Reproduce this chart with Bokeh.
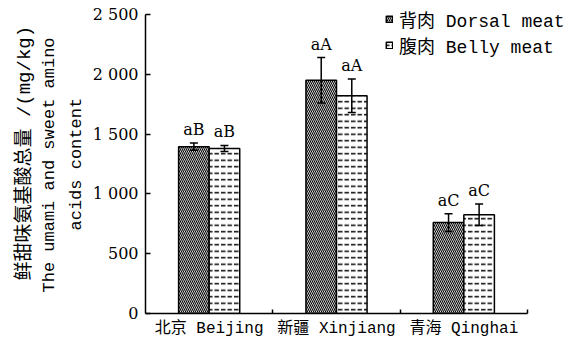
from bokeh.plotting import figure
from bokeh.models import (ColumnDataSource, Range1d, FixedTicker, Whisker, TeeHead,
                          Legend, LegendItem, Title)
from bokeh.core.properties import value
from bokeh.embed import file_html
from bokeh.resources import INLINE

# Umami + sweet amino acid totals (mg/kg), mean and error per region
regions = ["北京 Beijing", "新疆 Xinjiang", "青海 Qinghai"]
dorsal = [1395, 1950, 760]
dorsal_err = [30, 190, 75]
belly = [1380, 1820, 825]
belly_err = [25, 140, 90]
dorsal_sig = ["aB", "aA", "aC"]
belly_sig = ["aB", "aA", "aC"]
y_ticks = [0, 500, 1000, 1500, 2000, 2500]
y_tick_labels = ["0", "500", "1 000", "1 500", "2 000", "2 500"]
y_title_lines = ["鲜甜味氨基酸总量 /(mg/kg)", "The umami and sweet amino", "acids content"]
series_names = ["背肉 Dorsal meat", "腹肉 Belly meat"]

BAR_W = 0.24
MONO = "'Liberation Mono', 'Noto Sans CJK SC'"
SERIF = "DejaVu Serif"

W, H = 578, 346
LEFT, RIGHT_AXIS_END, AXIS_TOP, BOTTOM = 145, 527, 14, 33
N = len(regions)
Y_MAX = 2500
centers = [i + 0.5 for i in range(N)]
# the frame runs to the right and top edges so the legend has room;
# both axis lines stop at the data limits
x_end = N * (W - LEFT) / (RIGHT_AXIS_END - LEFT)
y_end = Y_MAX * (H - BOTTOM) / (H - BOTTOM - AXIS_TOP)


def make_source(means, errs, sig, shift):
    return ColumnDataSource(dict(
        x=[c + shift for c in centers],
        top=means,
        lower=[m - e for m, e in zip(means, errs)],
        upper=[m + e for m, e in zip(means, errs)],
        sig=sig,
    ))


src_d = make_source(dorsal, dorsal_err, dorsal_sig, -BAR_W / 2)
src_b = make_source(belly, belly_err, belly_sig, BAR_W / 2)

p = figure(width=W, height=H, output_backend="svg", toolbar_location=None,
           x_range=Range1d(0, x_end), y_range=Range1d(0, y_end),
           min_border_left=LEFT, min_border_right=0,
           min_border_top=0, min_border_bottom=BOTTOM)
p.outline_line_color = None
p.grid.visible = False

r_d = p.vbar(x="x", top="top", width=BAR_W, source=src_d,
             fill_color="white", line_color="black", line_width=1.5,
             hatch_pattern="left_diagonal_line", hatch_color="black",
             hatch_scale=4, hatch_weight=1.1)
r_b = p.vbar(x="x", top="top", width=BAR_W, source=src_b,
             fill_color="white", line_color="black", line_width=1.5,
             hatch_pattern="horizontal_dash", hatch_color="black",
             hatch_scale=6.5, hatch_weight=1.5)

for src in (src_d, src_b):
    w = Whisker(base="x", lower="lower", upper="upper", source=src,
                line_color="black", line_width=1.5, level="overlay",
                upper_head=TeeHead(size=8, line_color="black", line_width=1.5),
                lower_head=TeeHead(size=8, line_color="black", line_width=1.5))
    p.add_layout(w)
    p.text(x="x", y="upper", text="sig", source=src, text_align="center",
           text_baseline="bottom", y_offset=-4, text_font=value(SERIF),
           text_font_size="16px", text_color="black")

# axes
for ax in (p.xaxis[0], p.yaxis[0]):
    ax.axis_line_color = "black"
    ax.axis_line_width = 1.5
    ax.major_label_text_color = "black"

p.yaxis.bounds = (0, Y_MAX)
p.yaxis.ticker = FixedTicker(ticks=y_ticks, minor_ticks=[])
p.yaxis.major_label_overrides = {t: s for t, s in zip(y_ticks, y_tick_labels)}
p.yaxis.major_tick_in = 5
p.yaxis.major_tick_out = 0
p.yaxis.major_tick_line_color = "black"
p.yaxis.major_tick_line_width = 1.5
p.yaxis.major_label_standoff = 7
p.yaxis.major_label_text_font = SERIF
p.yaxis.major_label_text_font_size = "16px"

p.xaxis.bounds = (0, N)
p.xaxis.ticker = FixedTicker(ticks=centers, minor_ticks=list(range(1, N + 1)))
p.xaxis.major_label_overrides = {c: r for c, r in zip(centers, regions)}
p.xaxis.major_tick_in = 0
p.xaxis.major_tick_out = 0
p.xaxis.minor_tick_in = 4
p.xaxis.minor_tick_out = 0
p.xaxis.minor_tick_line_color = "black"
p.xaxis.minor_tick_line_width = 1.5
p.xaxis.major_label_standoff = 6
p.xaxis.major_label_text_font = MONO
p.xaxis.major_label_text_font_size = "16px"

# y-axis title: three stacked side titles, innermost line first;
# each starts `offset` px above the bottom of the frame
for txt, size, standoff, offset in [(y_title_lines[2], "17px", 8, 83),
                                    (y_title_lines[1], "17px", 3, 21),
                                    (y_title_lines[0], "19px", 2, 33)]:
    p.add_layout(Title(text=txt, align="left", offset=offset, standoff=standoff,
                       text_font=MONO, text_font_size=size,
                       text_font_style="normal", text_color="black"), "left")

# legend sits in the top-right corner of the frame
legend = Legend(items=[LegendItem(label=series_names[0], renderers=[r_d]),
                       LegendItem(label=series_names[1], renderers=[r_b])],
                location=(240, 255), glyph_width=8, glyph_height=8,
                label_standoff=6, spacing=0, padding=0, label_height=21,
                border_line_color=None, background_fill_alpha=0,
                label_text_font=MONO, label_text_font_size="18px",
                label_text_color="black")
p.add_layout(legend)

open("out.html", "w").write(file_html(p, INLINE))
